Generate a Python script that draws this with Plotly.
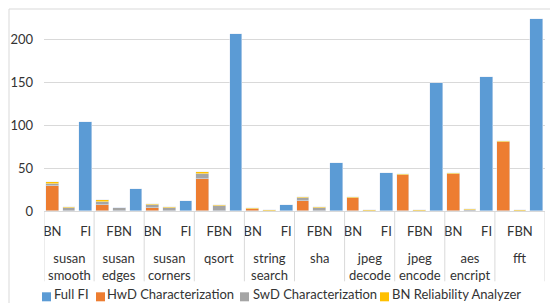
import plotly.graph_objects as go

# ---- data ----
groups = ["susan smooth", "susan edges", "susan corners", "qsort", "string search",
          "sha", "jpeg decode", "jpeg encode", "aes encript", "fft"]
slot_labels = ["BN", "FBN", "FI"]
full_fi = [104, 25.5, 12, 207, 7, 56.5, 44.8, 149.4, 156.8, 224]
hwd_bn = [29, 7, 3.5, 37.5, 2, 12, 15, 42, 43, 80]
swd_bn = [3, 3.3, 3, 6, 0.3, 3.5, 0, 0, 0, 0]
bnra_bn = [1.5, 2, 1.5, 1.8, 1, 1.4, 1, 1.2, 1.8, 1.5]
swd_fbn = [3, 3, 3, 5.5, 0, 3, 0, 0, 1, 0]
bnra_fbn = [1.2, 1, 1.2, 1.2, 0.8, 1.2, 0.8, 0.8, 1, 0.8]
y_ticks = [0, 50, 100, 150, 200]

series_names = ["Full FI", "HwD Characterization", "SwD Characterization", "BN Reliability Analyzer"]
colors = ["#5B9BD5", "#ED7D31", "#A5A5A5", "#FFC000"]

TXT = "#333333"
FONT = "Lato"
GRID = "#D9D9D9"

n = len(groups)
ns = len(slot_labels)
x_bn = [g * ns + 0 for g in range(n)]
x_fbn = [g * ns + 1 for g in range(n)]
x_fi = [g * ns + 2 for g in range(n)]

W = 0.76
fig = go.Figure()
fig.add_trace(go.Bar(name=series_names[1], x=x_bn + x_fbn, y=hwd_bn + [0] * n,
                     marker_color=colors[1], width=W))
fig.add_trace(go.Bar(name=series_names[2], x=x_bn + x_fbn, y=swd_bn + swd_fbn,
                     marker_color=colors[2], width=W))
fig.add_trace(go.Bar(name=series_names[3], x=x_bn + x_fbn, y=bnra_bn + bnra_fbn,
                     marker_color=colors[3], width=W))
fig.add_trace(go.Bar(name=series_names[0], x=x_fi, y=full_fi,
                     marker_color=colors[0], width=W))

# tick labels: every second category shown (as in the original)
all_x = list(range(n * ns))
all_lbl = [slot_labels[i % ns] for i in all_x]
tv = all_x[::2]
tt = all_lbl[::2]

shapes = []
annotations = []
plot_h = 202.0
plot_w = 501.0
def py(px):  # pixel y -> paper
    return -(px - 210.7) / plot_h
def pxp(px):  # pixel x -> paper
    return (px - 44) / plot_w

# group dividers
for g in range(n + 1):
    shapes.append(dict(type="line", xref="x", yref="paper", x0=g * ns - 0.5, x1=g * ns - 0.5,
                       y0=0, y1=py(281), line=dict(color=GRID, width=1)))
# group labels
for g, name in enumerate(groups):
    annotations.append(dict(xref="x", yref="paper", x=g * ns + 1, y=py(248),
                            text=name.replace(" ", "<br>"), showarrow=False,
                            xanchor="center", yanchor="top",
                            font=dict(family=FONT, size=13, color=TXT)))

# chart border
shapes.append(dict(type="rect", xref="paper", yref="paper", x0=pxp(9), x1=pxp(560),
                   y0=py(320), y1=1, line=dict(color=GRID, width=1), layer="below"))

# legend (manual, Excel-like)
leg_sq = [42, 96, 240, 380]
leg_tx = [53, 106, 252, 391]
ly = 296
for i in range(4):
    shapes.append(dict(type="rect", xref="paper", yref="paper",
                       x0=pxp(leg_sq[i]), x1=pxp(leg_sq[i] + 9),
                       y0=py(ly + 5), y1=py(ly - 4),
                       fillcolor=colors[i], line=dict(width=0)))
    annotations.append(dict(xref="paper", yref="paper", x=pxp(leg_tx[i]), y=py(303),
                            text=series_names[i], showarrow=False,
                            xanchor="left", yanchor="bottom", borderpad=0,
                            font=dict(family=FONT, size=13, color=TXT)))

fig.update_layout(
    width=550, height=303, autosize=False,
    margin=dict(l=44, r=5, t=9, b=92, pad=0),
    barmode="stack", bargap=0,
    plot_bgcolor="white", paper_bgcolor="white",
    showlegend=False,
    font=dict(family=FONT, size=13, color=TXT),
    shapes=shapes, annotations=annotations,
)
fig.update_xaxes(range=[-0.5, n * ns - 0.5], tickmode="array", tickvals=tv, ticktext=tt,
                 showgrid=False, showline=True, linecolor=GRID, linewidth=1,
                 ticks="", ticklabelstandoff=8, zeroline=False,
                 tickfont=dict(family=FONT, size=13, color=TXT))
fig.update_yaxes(range=[0, plot_h / 0.857], tickmode="array", tickvals=y_ticks,
                 showgrid=True, gridcolor=GRID, gridwidth=1, zeroline=False,
                 showline=False, ticks="", ticklabelstandoff=10,
                 tickfont=dict(family=FONT, size=13, color=TXT))

fig.write_html("out.html", config={"displayModeBar": False},
               post_script="document.body.style.margin='0';document.body.style.overflow='hidden';")
